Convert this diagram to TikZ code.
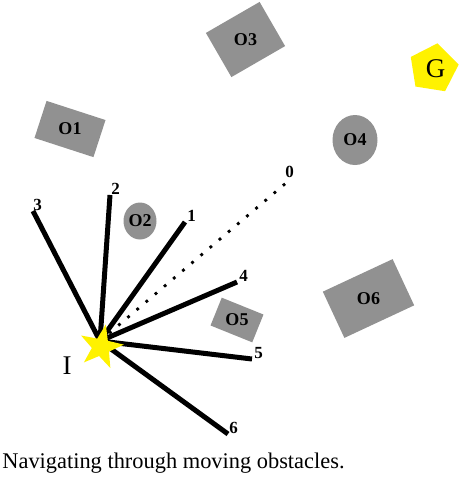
\documentclass[tikz,border=0pt]{standalone}
\usepackage{fontspec}
\setmainfont{Liberation Serif}
\usetikzlibrary{shapes.geometric}

\begin{document}
\begin{tikzpicture}
% Scene laid out in pixel units (origin at top left)
\def\pxsz{0.5pt}
\providecommand{\obstacleColor}{black!43}
\providecommand{\markerColor}{yellow}
\providecommand{\rayLineWidth}{2.5pt}
\tikzset{
  obstacle/.style={fill=\obstacleColor, draw=none, inner sep=0pt},
  obstaclelabel/.style={font=\fontsize{9}{9}\selectfont\bfseries, inner sep=0pt},
  raylabel/.style={font=\fontsize{8.5}{8.5}\selectfont\bfseries, inner sep=0pt, anchor=south west},
  ray/.style={line width=\rayLineWidth, line cap=butt},
}
\begin{scope}[x=\pxsz, y=-\pxsz]
  \useasboundingbox (0,0) rectangle (460,478);
  % Obstacles
  \node[obstacle, rectangle, rotate=-18, minimum width=31pt, minimum height=19.5pt] (O1) at (70,129) {};
  \node[obstacle, ellipse, minimum width=16.5pt, minimum height=18.5pt] (O2) at (140,221) {};
  \node[obstacle, rectangle, rotate=30, minimum width=31pt, minimum height=25.5pt] (O3) at (245.5,39.5) {};
  \node[obstacle, ellipse, minimum width=22.5pt, minimum height=25pt] (O4) at (355,140) {};
  \node[obstacle, rectangle, rotate=-22, minimum width=22.5pt, minimum height=15pt] (O5) at (237,320) {};
  \node[obstacle, rectangle, rotate=25, minimum width=38.5pt, minimum height=25.5pt] (O6) at (368.5,298.5) {};
  % Obstacle labels
  \node[obstaclelabel] (O1t) at (O1) {O1};
  \node[obstaclelabel] (O2t) at (O2) {O2};
  \node[obstaclelabel] (O3t) at (O3) {O3};
  \node[obstaclelabel] (O4t) at (O4) {O4};
  \node[obstaclelabel] (O5t) at (O5) {O5};
  \node[obstaclelabel] (O6t) at (O6) {O6};
  % Goal
  \node[regular polygon, regular polygon sides=5, rotate=-9, fill=\markerColor, inner sep=0pt, minimum size=25.5pt] (G) at (433.5,68.5) {};
  \node[font=\fontsize{13.5}{13.5}\selectfont, inner sep=0pt] (Gt) at (435.5,69) {G};
  % Candidate rays from the start
  \coordinate (o) at (100,341);
  \coordinate (r0) at (286,183);
  \coordinate (r1) at (185,222);
  \coordinate (r2) at (110,195);
  \coordinate (r3) at (33,211);
  \coordinate (r4) at (237,282);
  \coordinate (r5) at (252,359);
  \coordinate (r6) at (228,434);
  \draw[line width=1.4pt, dash pattern=on 1.4pt off 4.6pt] (o) -- (r0);
  \draw[ray] (o) -- (r1);
  \draw[ray] (o) -- (r2);
  \draw[ray] (o) -- (r3);
  \draw[ray] (o) -- (r4);
  \draw[ray] (o) -- (r5);
  \draw[ray] (o) -- (r6);
  % Ray labels
  \node[raylabel] (l0) at ([xshift=-0.5pt,yshift=2.5pt]r0) {0};
  \node[raylabel] (l1) at ([xshift=1pt]r1) {1};
  \node[raylabel] (l2) at ([xshift=0.5pt]r2) {2};
  \node[raylabel] (l3) at (r3) {3};
  \node[raylabel] (l4) at ([xshift=1pt]r4) {4};
  \node[raylabel] (l5) at ([xshift=1pt]r5) {5};
  \node[raylabel] (l6) at ([xshift=0.5pt]r6) {6};
  % Start
  \node[star, star points=5, star point ratio=2.5, rotate=-12, fill=\markerColor, inner sep=0pt, minimum size=23pt] (I) at (101,347) {};
  \node[font=\fontsize{13.5}{13.5}\selectfont, inner sep=0pt] (It) at (67,366) {I};
  % Caption
  \node[anchor=base west, font=\fontsize{11.2}{11.2}\selectfont, inner sep=0pt] (cap) at (2,468) {Navigating through moving obstacles.};
\end{scope}
\end{tikzpicture}
\end{document}
